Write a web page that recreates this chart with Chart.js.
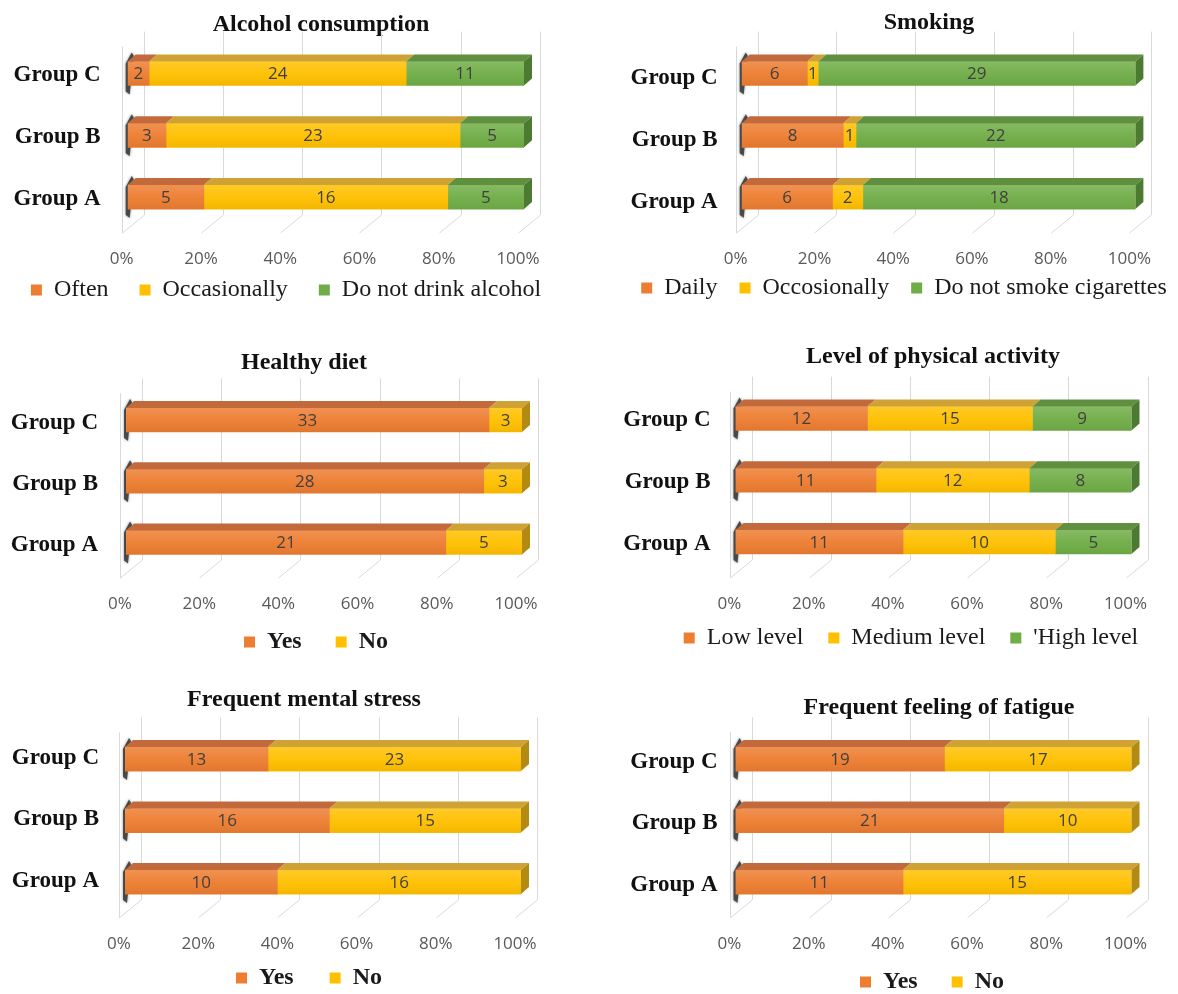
<!DOCTYPE html>
<html>
<head>
<meta charset="utf-8">
<script src="https://cdn.jsdelivr.net/npm/chart.js@4.4.1/dist/chart.umd.min.js"></script>
<style>
  html, body { margin: 0; padding: 0; background: #ffffff; }
  #wrap { position: relative; width: 1178px; height: 994px; overflow: hidden; background: #ffffff; }
  canvas { position: absolute; }
</style>
</head>
<body>
<div id="wrap">
  <canvas id="c1"></canvas>
  <canvas id="c2"></canvas>
  <canvas id="c3"></canvas>
  <canvas id="c4"></canvas>
  <canvas id="c5"></canvas>
  <canvas id="c6"></canvas>
</div>
<script>
// ---------------- DATA ----------------
const groups = ['Group A', 'Group B', 'Group C'];
const tickValues = [0, 20, 40, 60, 80, 100];
const tickLabels = ['0%', '20%', '40%', '60%', '80%', '100%'];

const alcoholTitle = 'Alcohol consumption';
const alcoholSeries = ['Often', 'Occasionally', 'Do not drink alcohol'];
const alcoholOften = [5, 3, 2];
const alcoholOccasionally = [16, 23, 24];
const alcoholNever = [5, 5, 11];

const smokingTitle = 'Smoking';
const smokingSeries = ['Daily', 'Occosionally', 'Do not smoke cigarettes'];
const smokingDaily = [6, 8, 6];
const smokingOccasionally = [2, 1, 1];
const smokingNever = [18, 22, 29];

const dietTitle = 'Healthy diet';
const dietSeries = ['Yes', 'No'];
const dietYes = [21, 28, 33];
const dietNo = [5, 3, 3];

const activityTitle = 'Level of physical activity';
const activitySeries = ['Low level', 'Medium level', '\'High level'];
const activityLow = [11, 11, 12];
const activityMedium = [10, 12, 15];
const activityHigh = [5, 8, 9];

const stressTitle = 'Frequent mental stress';
const stressSeries = ['Yes', 'No'];
const stressYes = [10, 16, 13];
const stressNo = [16, 15, 23];

const fatigueTitle = 'Frequent feeling of fatigue';
const fatigueSeries = ['Yes', 'No'];
const fatigueYes = [11, 21, 19];
const fatigueNo = [15, 10, 17];

// ---------------- STYLE ----------------
const FRONT = ['#ED7D31', '#FFC000', '#70AD47'];
const TOPC  = ['#C36A3D', '#CFA235', '#5F8F3F'];
const SIDE  = ['#A9552A', '#B38B12', '#4C7A31'];
const SERIF = '"Liberation Serif", "Times New Roman", serif';
const SANS = '"Open Sans", "Liberation Sans", sans-serif';
const DX = 8, DY = 7;          // bar depth
const FRONT_SHIFT = -6;        // floor front edge vs bar value
const BACK_DX = 22;            // back wall offset
const TITLE_SIZE = 24, TITLE_LH = 1.2;
const LEGEND_SIZE = 24;

const depthPlugin = {
  id: 'depth3d',
  afterLayout(chart) {
    const g = chart.options.plugins.depth3d.geom;
    const t = chart.titleBlock;
    if (t) {
      const h = TITLE_SIZE * TITLE_LH;
      const w = t.right - t.left;
      const cxp = g.tx - g.cx;
      t.left = cxp - w / 2; t.right = cxp + w / 2;
      t.top = g.ty - g.cy - h / 2; t.bottom = t.top + h;
    }
    const L = chart.legend;
    if (L) {
      const w = L.right - L.left;
      const lcx = g.lx - g.cx;
      const hgt = L.bottom - L.top;
      L.left = lcx - w / 2; L.right = lcx + w / 2;
      L.top = g.ly - g.cy - g.lpad - LEGEND_SIZE / 2; L.bottom = L.top + hgt;
    }
    const xs = chart.scales.x;
    xs.bottom = chart.height;
    xs.height = xs.bottom - xs.top;
  },
  beforeDatasetsDraw(chart) {
    const ctx = chart.ctx, xs = chart.scales.x, a = chart.chartArea;
    ctx.save();
    ctx.strokeStyle = '#D9D9D9';
    ctx.lineWidth = 1;
    tickValues.forEach(v => {
      const xf = Math.round(xs.getPixelForValue(v) + FRONT_SHIFT) + 0.5;
      const xb = xf + BACK_DX;
      ctx.beginPath();
      ctx.moveTo(xb, a.top - 11);
      ctx.lineTo(xb, a.bottom - 13);
      ctx.lineTo(xf, a.bottom + 5);
      ctx.stroke();
      if (v === 0) {
        ctx.beginPath();
        ctx.moveTo(xf, a.top + 4);
        ctx.lineTo(xf, a.bottom + 5);
        ctx.stroke();
      }
    });
    const meta = chart.getDatasetMeta(0);
    meta.data.forEach(el => {
      const p = el.getProps(['x', 'y', 'base', 'height'], true);
      const x0 = Math.min(p.base, p.x), t = p.y - p.height / 2, b = p.y + p.height / 2;
      ctx.fillStyle = 'rgba(55,55,55,0.85)';
      ctx.shadowColor = 'rgba(0,0,0,0.5)';
      ctx.shadowBlur = 3;
      ctx.beginPath();
      ctx.moveTo(x0 + 4, t - 9);
      ctx.lineTo(x0 + 6, t - 6);
      ctx.lineTo(x0 + 2, b + 9);
      ctx.lineTo(x0 - 2, b + 6);
      ctx.lineTo(x0 - 2, t + 2);
      ctx.closePath();
      ctx.fill();
    });
    ctx.restore();
  },
  afterDatasetsDraw(chart) {
    const ctx = chart.ctx;
    const n = chart.data.datasets.length;
    ctx.save();
    chart.data.datasets.forEach((ds, k) => {
      const meta = chart.getDatasetMeta(k);
      meta.data.forEach((el, i) => {
        const p = el.getProps(['x', 'y', 'base', 'height'], true);
        const x0 = Math.min(p.base, p.x), x1 = Math.max(p.base, p.x);
        const t = p.y - p.height / 2, b = p.y + p.height / 2;
        const gr = ctx.createLinearGradient(0, t, 0, b);
        gr.addColorStop(0, 'rgba(255,255,255,0.16)');
        gr.addColorStop(0.5, 'rgba(255,255,255,0.04)');
        gr.addColorStop(1, 'rgba(0,0,0,0.05)');
        ctx.fillStyle = gr;
        ctx.fillRect(x0, t, x1 - x0, b - t);
        ctx.fillStyle = TOPC[k];
        ctx.beginPath();
        ctx.moveTo(x0, t);
        ctx.lineTo(x0 + DX, t - DY);
        ctx.lineTo(x1 + DX, t - DY);
        ctx.lineTo(x1, t);
        ctx.closePath();
        ctx.fill();
        if (k === n - 1) {
          ctx.fillStyle = SIDE[k];
          ctx.beginPath();
          ctx.moveTo(x1, t);
          ctx.lineTo(x1 + DX, t - DY);
          ctx.lineTo(x1 + DX, b - DY);
          ctx.lineTo(x1, b);
          ctx.closePath();
          ctx.fill();
        }
      });
    });
    ctx.font = '17px ' + SANS;
    ctx.fillStyle = '#404040';
    ctx.textAlign = 'center';
    ctx.textBaseline = 'middle';
    chart.data.datasets.forEach((ds, k) => {
      const meta = chart.getDatasetMeta(k);
      meta.data.forEach((el, i) => {
        const p = el.getProps(['x', 'y', 'base'], true);
        ctx.fillText(String(ds.counts[i]), (p.base + p.x) / 2, p.y + 1);
      });
    });
    ctx.restore();
  }
};

function build(id, g, titleText, names, series) {
  const cv = document.getElementById(id);
  cv.width = g.cw; cv.height = g.ch;
  cv.style.left = g.cx + 'px'; cv.style.top = g.cy + 'px';
  cv.style.width = g.cw + 'px'; cv.style.height = g.ch + 'px';
  const totals = groups.map((_, i) => series.reduce((s, arr) => s + arr[i], 0));
  const datasets = series.map((arr, k) => ({
    label: names[k],
    data: arr.map((v, i) => v / totals[i] * 100),
    counts: arr,
    backgroundColor: FRONT[k],
    borderWidth: 0,
    barThickness: 24
  }));
  return new Chart(cv, {
    type: 'bar',
    data: { labels: groups, datasets },
    plugins: [depthPlugin],
    options: {
      indexAxis: 'y',
      responsive: false,
      animation: false,
      devicePixelRatio: 1,
      layout: { padding: { top: g.pt - g.cy - TITLE_SIZE * TITLE_LH, left: 0, right: 0, bottom: 0 } },
      scales: {
        x: {
          stacked: true, min: 0, max: 100,
          grid: { display: false, drawTicks: false },
          border: { display: false },
          ticks: {
            stepSize: 20,
            padding: g.tpad,
            labelOffset: FRONT_SHIFT,
            color: '#595959',
            font: { family: SANS, size: 17 },
            callback: v => tickLabels[tickValues.indexOf(v)]
          },
          afterFit: s => { s.height = Math.max(5, g.cy + g.ch - g.pb - s.chart.legend.height); }
        },
        y: {
          stacked: true, reverse: true,
          grid: { display: false, drawTicks: false },
          border: { display: false },
          ticks: {
            padding: g.yPad,
            labelOffset: g.yDy,
            color: '#111111',
            font: { family: SERIF, size: 23, weight: 'bold' }
          },
          afterFit: s => { s.width = g.pl - g.cx; }
        },
        yR: {
          type: 'linear', axis: 'y', position: 'right', display: true,
          grid: { display: false, drawTicks: false },
          border: { display: false },
          ticks: { display: false },
          afterFit: s => { s.width = g.cx + g.cw - g.pr; }
        }
      },
      plugins: {
        depth3d: { geom: g },
        tooltip: { enabled: false },
        title: {
          display: true, text: titleText, color: '#111111',
          padding: 0,
          font: { family: SERIF, size: TITLE_SIZE, weight: 'bold', lineHeight: TITLE_LH }
        },
        legend: {
          display: true, position: 'bottom',
          labels: {
            boxWidth: 11, boxHeight: 11, padding: g.lpad,
            color: '#1a1a1a',
            font: { family: SERIF, size: LEGEND_SIZE, weight: g.bold ? 'bold' : 'normal' }
          }
        }
      }
    }
  });
}

build('c1', {cx:0, cy:0, cw:590, ch:315, pl:127.7, pr:524, pt:42.6, pb:228, tx:321, ty:25, lx:286, ly:290, lpad:31, bold:false, yDy:2, yPad:27, tpad:21},
  alcoholTitle, alcoholSeries, [alcoholOften, alcoholOccasionally, alcoholNever]);
build('c2', {cx:590, cy:0, cw:588, ch:315, pl:741.7, pr:1138, pt:42.6, pb:228, tx:929, ty:23, lx:904, ly:288, lpad:22, bold:false, yDy:5, yPad:24, tpad:21},
  smokingTitle, smokingSeries, [smokingDaily, smokingOccasionally, smokingNever]);
build('c3', {cx:0, cy:320, cw:590, ch:340, pl:126, pr:522, pt:389.4, pb:573, tx:304, ty:363, lx:316, ly:642, lpad:34, bold:true, yDy:3, yPad:28, tpad:21},
  dietTitle, dietSeries, [dietYes, dietNo]);
build('c4', {cx:590, cy:320, cw:588, ch:340, pl:735.5, pr:1131.5, pt:387.6, pb:572.9, tx:933, ty:357, lx:911, ly:638, lpad:25, bold:false, yDy:2, yPad:25, tpad:21},
  activityTitle, activitySeries, [activityLow, activityMedium, activityHigh]);
build('c5', {cx:0, cy:660, cw:590, ch:334, pl:125, pr:521, pt:728.3, pb:912.8, tx:304, ty:700, lx:309, ly:978, lpad:36, bold:true, yDy:-1, yPad:26, tpad:21},
  stressTitle, stressSeries, [stressYes, stressNo]);
build('c6', {cx:590, cy:660, cw:588, ch:334, pl:735.5, pr:1131.5, pt:728.3, pb:912.8, tx:939, ty:708, lx:932, ly:982, lpad:34, bold:true, yDy:3, yPad:18, tpad:21},
  fatigueTitle, fatigueSeries, [fatigueYes, fatigueNo]);
</script>
</body>
</html>
